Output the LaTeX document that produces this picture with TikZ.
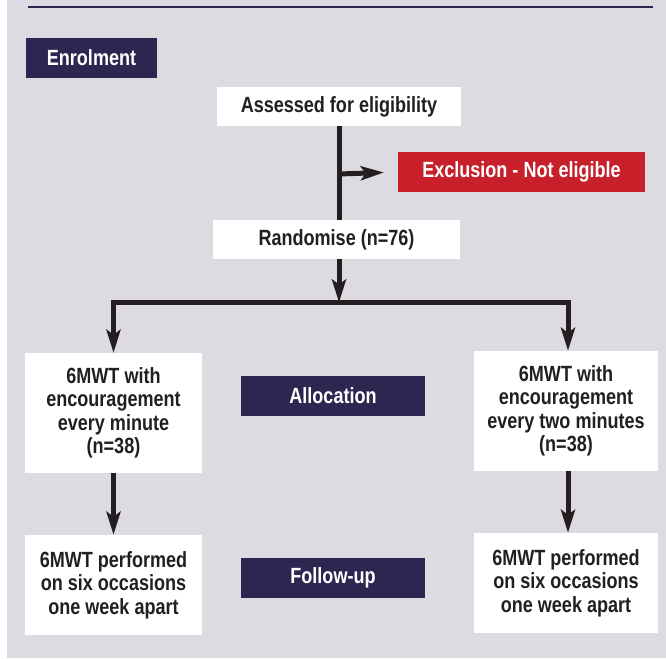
\documentclass[tikz,border=0pt]{standalone}
\usepackage{fontspec}
\newfontfamily\cond{Liberation Sans}[FakeStretch=0.82]
\usetikzlibrary{arrows.meta}
\definecolor{bggrey}{HTML}{DDDAE1}
\definecolor{navy}{HTML}{2D2650}
\definecolor{exred}{HTML}{C8202B}
\definecolor{ink}{HTML}{231F20}
\begin{document}
\begin{tikzpicture}[x=1pt,y=-1pt,
  every node/.style={inner sep=0pt, align=center, font=\cond\bfseries\fontsize{22}{23.5}\selectfont},
  whitebox/.style={fill=white, text=ink},
  darkbox/.style={fill=navy, text=white},
  redbox/.style={fill=exred, text=white},
  flow/.style={draw=ink, line width=5pt, -{Stealth[length=23pt,width=14pt,inset=5pt]}},
  plain/.style={draw=ink, line width=5pt}]
\useasboundingbox (0,0) rectangle (666,658);
\fill[white] (0,0) rectangle (666,658);
\fill[bggrey] (7,0) rectangle (666,658);
\draw[navy, line width=2.5pt] (28,7) -- (653,7);

\node[darkbox, minimum width=131pt, minimum height=40pt] (enrol) at (91.5,58) {Enrolment};
\node[whitebox, minimum width=244pt, minimum height=39pt] (assess) at (339,106.5) {Assessed for eligibility};
\node[redbox, minimum width=247pt, minimum height=40pt] (excl) at (521.5,172) {Exclusion - Not eligible};
\node[whitebox, minimum width=247pt, minimum height=39pt] (rand) at (336.5,239.5) {Randomise (n=76)};
\node[whitebox, minimum width=177pt, minimum height=120pt] (L1) at (113.5,413) {6MWT with\\encouragement\\every minute\\(n=38)};
\node[whitebox, minimum width=184pt, minimum height=120pt] (R1) at (566,411) {6MWT with\\encouragement\\every two minutes\\(n=38)};
\node[darkbox, minimum width=184pt, minimum height=40pt] (alloc) at (333,396) {Allocation};
\node[whitebox, minimum width=177pt, minimum height=100pt] (L2) at (113.5,585) {6MWT performed\\on six occasions\\one week apart};
\node[whitebox, minimum width=184pt, minimum height=100pt] (R2) at (566,583) {6MWT performed\\on six occasions\\one week apart};
\node[darkbox, minimum width=184pt, minimum height=40pt] (follow) at (333,578) {Follow-up};

\coordinate (br) at (339,174);
\coordinate (bar) at (339,302.5);
\draw[plain] (assess.south) -- (assess.south |- rand.north);
\draw[flow, shorten >=14pt] (br) -- (excl.west);
\draw[flow] (assess.south |- rand.south) -- (bar);
\draw[flow] (bar) -| ([xshift=0pt]L1.north);
\draw[flow] (bar) -| ([xshift=2pt]R1.north);
\draw[flow] (L1.south) -- (L2.north);
\draw[flow] ([xshift=2pt]R1.south) -- ([xshift=2pt]R2.north);
\end{tikzpicture}
\end{document}
